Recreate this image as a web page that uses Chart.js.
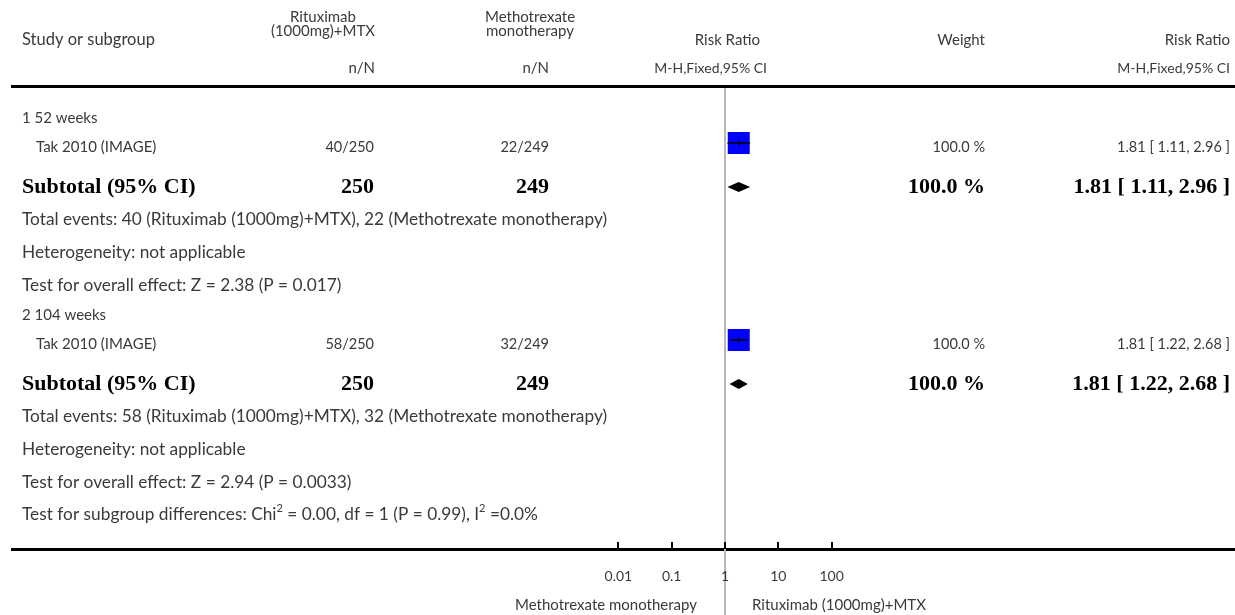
<!DOCTYPE html>
<html>
<head>
<meta charset="utf-8">
<script src="https://cdn.jsdelivr.net/npm/chart.js@4"></script>
<style>
  html, body { margin: 0; padding: 0; background: #fff; }
  #wrap { width: 1235px; height: 615px; position: relative; }
</style>
</head>
<body>
<div id="wrap"><canvas id="forest"></canvas></div>
<script>
// subgroups and the single study in each
const groups = ['1 52 weeks', '2 104 weeks'];
const studies = ['Tak 2010 (IMAGE)', 'Tak 2010 (IMAGE)'];
const expEvents = [40, 58];
const expTotal = [250, 250];
const ctrlEvents = [22, 32];
const ctrlTotal = [249, 249];
const riskRatio = [1.81, 1.81];
const ciLow = [1.11, 1.22];
const ciHigh = [2.96, 2.68];
const weights = [100.0, 100.0];
const zValues = ['2.38', '2.94'];
const pValues = ['0.017', '0.0033'];
const axisTicks = [0.01, 0.1, 1, 10, 100];
const expName = 'Rituximab (1000mg)+MTX';
const ctrlName = 'Methotrexate monotherapy';

// vertical layout of each block (pixel rows)
const blockTop = [118, 315];
const W = 1235, H = 615;
const refX = 725, perDecade = 53.3;

const sans = '"Lato", "Open Sans", sans-serif';
const serif = '"Liberation Serif", "DejaVu Serif", serif';
const prose = '17.3px ' + sans;
const head = '15px ' + sans;
const small = '14px ' + sans;
const nums = '14.5px ' + sans;
const names = '15px ' + sans;
const bold = 'bold 22px ' + serif;
const ink = '#3a3a3a';

function rowsOf(g) {
  const t = blockTop[g];
  return { group: t, study: t + 29, box: t + 25, sub: t + 69, total: t + 101, het: t + 134, test: t + 167 };
}

function fmt(v) { return v.toFixed(2); }

const forestText = {
  id: 'forestText',
  afterDatasetsDraw(chart) {
    const ctx = chart.ctx;
    const xs = chart.scales.x;
    const ys = chart.scales.y;
    ctx.save();
    ctx.textBaseline = 'middle';
    ctx.fillStyle = ink;

    const txt = (s, x, y, align, font) => {
      ctx.font = font || prose;
      ctx.textAlign = align || 'left';
      ctx.fillText(s, x, y);
    };

    // header
    txt('Study or subgroup', 22, 40, 'left', '16.5px ' + sans);
    txt('Rituximab', 323, 17, 'center', head);
    txt('(1000mg)+MTX', 323, 31, 'center', head);
    txt('Methotrexate', 530, 17, 'center', head);
    txt('monotherapy', 530, 31, 'center', head);
    txt('n/N', 375, 68, 'right', head);
    txt('n/N', 549, 68, 'right', head);
    txt('Risk Ratio', 760, 40, 'right', head);
    txt('M-H,Fixed,95% CI', 767, 68, 'right', small);
    txt('Weight', 985, 40, 'right', head);
    txt('Risk Ratio', 1230, 40, 'right', head);
    txt('M-H,Fixed,95% CI', 1230, 68, 'right', small);

    // heavy rules
    ctx.fillStyle = '#000';
    ctx.fillRect(11, 85, W - 11, 3);
    ctx.fillRect(11, 548, W - 11, 3);

    // no-effect line
    const x1 = xs.getPixelForValue(1);
    ctx.fillStyle = '#b8b8b8';
    ctx.fillRect(x1 - 1, 88, 2, H - 88);

    // axis ticks and labels
    ctx.fillStyle = '#000';
    axisTicks.forEach(t => {
      const px = xs.getPixelForValue(t);
      ctx.fillRect(Math.round(px) - 1, 542, 2, 7);
    });
    ctx.fillStyle = ink;
    axisTicks.forEach(t => txt(String(t), xs.getPixelForValue(t), 576, 'center', small));
    txt(ctrlName, x1 - 28, 605, 'right', head);
    txt(expName, x1 + 27, 605, 'left', head);

    groups.forEach((g, i) => {
      const r = rowsOf(i);
      ctx.fillStyle = ink;
      txt(g, 22, r.group, 'left', names);
      txt(studies[i], 36, r.study, 'left', names);
      txt(expEvents[i] + '/' + expTotal[i], 374, r.study, 'right', nums);
      txt(ctrlEvents[i] + '/' + ctrlTotal[i], 549, r.study, 'right', nums);
      txt(weights[i].toFixed(1) + ' %', 985, r.study, 'right', nums);
      txt(fmt(riskRatio[i]) + ' [ ' + fmt(ciLow[i]) + ', ' + fmt(ciHigh[i]) + ' ]', 1230, r.study, 'right', nums);

      ctx.fillStyle = '#000';
      txt('Subtotal (95% CI)', 22, r.sub, 'left', bold);
      txt(String(expTotal[i]), 374, r.sub, 'right', bold);
      txt(String(ctrlTotal[i]), 549, r.sub, 'right', bold);
      txt(weights[i].toFixed(1) + ' %', 985, r.sub, 'right', bold);
      txt(fmt(riskRatio[i]) + ' [ ' + fmt(ciLow[i]) + ', ' + fmt(ciHigh[i]) + ' ]', 1230, r.sub, 'right', bold);

      ctx.fillStyle = ink;
      txt('Total events: ' + expEvents[i] + ' (' + expName + '), ' + ctrlEvents[i] + ' (' + ctrlName + ')', 22, r.total);
      txt('Heterogeneity: not applicable', 22, r.het);
      txt('Test for overall effect: Z = ' + zValues[i] + ' (P = ' + pValues[i] + ')', 22, r.test);

      // confidence interval through the box
      const yb = ys.getPixelForValue(r.box);
      const lo = xs.getPixelForValue(ciLow[i]);
      const hi = xs.getPixelForValue(ciHigh[i]);
      const mid = xs.getPixelForValue(riskRatio[i]);
      ctx.strokeStyle = '#000';
      ctx.lineWidth = 1.3;
      ctx.beginPath();
      ctx.moveTo(lo, yb); ctx.lineTo(hi, yb);
      ctx.moveTo(mid, yb - 2.5); ctx.lineTo(mid, yb + 2.5);
      ctx.stroke();

      // pooled estimate diamond
      const yd = ys.getPixelForValue(r.sub);
      ctx.fillStyle = '#000';
      ctx.beginPath();
      ctx.moveTo(lo, yd);
      ctx.lineTo(mid, yd - 5);
      ctx.lineTo(hi, yd);
      ctx.lineTo(mid, yd + 5);
      ctx.closePath();
      ctx.fill();
    });

    // subgroup differences line with superscripts
    ctx.fillStyle = ink;
    let x = 22;
    const yy = 514;
    const piece = (s, sup) => {
      ctx.font = sup ? '11px ' + sans : prose;
      ctx.textAlign = 'left';
      ctx.fillText(s, x, sup ? yy - 6 : yy);
      x += ctx.measureText(s).width;
    };
    piece('Test for subgroup differences: Chi');
    piece('2', true);
    piece(' = 0.00, df = 1 (P = 0.99), I');
    piece('2', true);
    piece(' =0.0%');

    ctx.restore();
  }
};

// log axis spanning the whole canvas: 1 sits at refX, one decade per perDecade px
const xMin = Math.pow(10, (0 - refX) / perDecade);
const xMax = Math.pow(10, (W - refX) / perDecade);

const boxPoints = riskRatio.map((v, i) => ({ x: v, y: rowsOf(i).box }));

const ctx = document.getElementById('forest').getContext('2d');
const forestChart = new Chart(ctx, {
  type: 'scatter',
  data: {
    datasets: [{
      label: 'Study weight',
      data: boxPoints,
      pointStyle: 'rect',
      pointRadius: 11 / Math.SQRT1_2,
      pointHoverRadius: 11 / Math.SQRT1_2,
      backgroundColor: '#0000ff',
      borderWidth: 0
    }]
  },
  options: {
    responsive: true,
    maintainAspectRatio: false,
    animation: false,
    events: [],
    layout: { padding: 0, autoPadding: false },
    plugins: { legend: { display: false }, tooltip: { enabled: false } },
    scales: {
      x: { type: 'logarithmic', min: xMin, max: xMax, display: false },
      y: { type: 'linear', min: 0, max: H, reverse: true, display: false }
    }
  },
  plugins: [forestText]
});
</script>
</body>
</html>
